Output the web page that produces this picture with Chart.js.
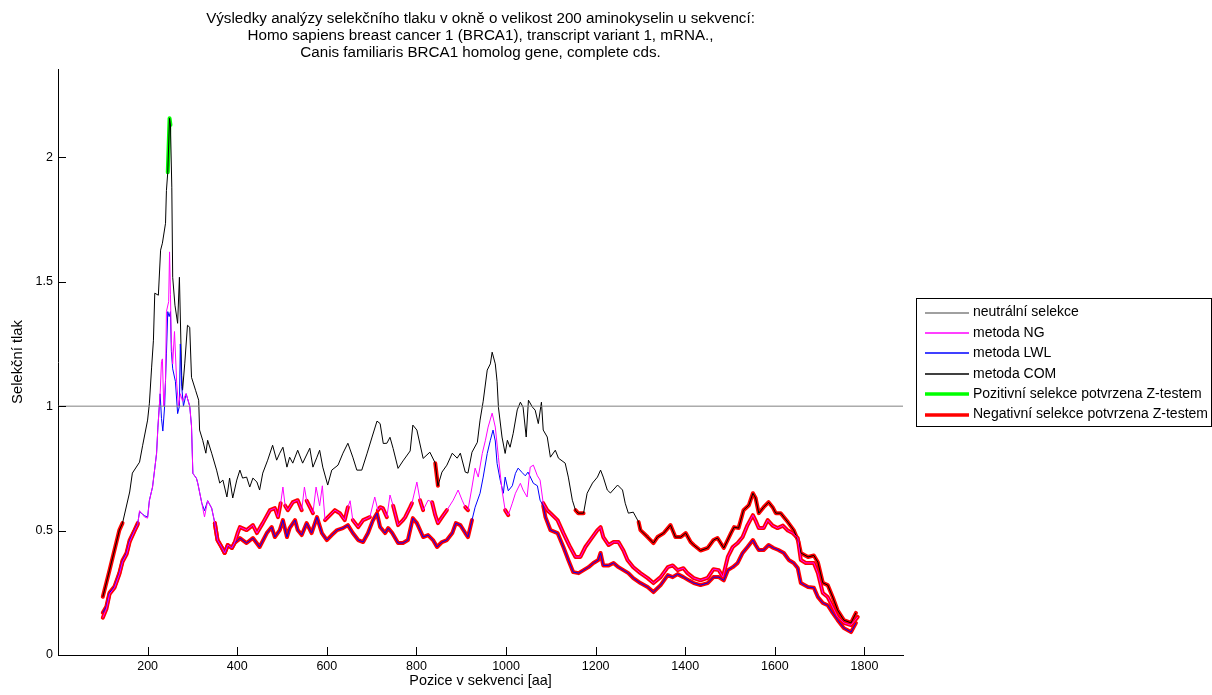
<!DOCTYPE html>
<html lang="cs">
<head>
<meta charset="utf-8">
<title>Selekční tlak BRCA1</title>
<script src="https://cdn.jsdelivr.net/npm/chart.js@4.4.1/dist/chart.umd.min.js"></script>
<style>
  html, body { margin: 0; padding: 0; background: #ffffff; }
  #wrap { width: 1212px; height: 695px; }
  canvas { display: block; }
</style>
</head>
<body>
<div id="wrap"><canvas id="chart" width="1212" height="695"></canvas></div>
<script>
// ---- data: positions [aa] and selection pressure values ----
const comPos = [100,115,137,144,160,166,182,189,200,204,209,213,216,224,229,233,240,242,245,249,251,254,256,261,267,271,276,278,283,289,294,298,307,314,316,323,330,334,343,354,361,368,377,383,390,399,406,412,421,428,435,444,450,457,468,479,488,495,502,511,517,524,535,546,562,569,578,584,591,602,611,625,636,647,658,667,678,690,701,712,719,726,734,741,748,759,770,786,792,801,815,830,842,848,857,868,880,891,898,909,915,924,936,942,949,958,965,969,976,980,983,991,998,1003,1009,1016,1025,1032,1038,1045,1050,1059,1065,1072,1079,1083,1092,1099,1110,1117,1132,1139,1148,1155,1161,1173,1181,1193,1204,1211,1217,1226,1233,1249,1260,1266,1273,1284,1296,1300,1316,1329,1338,1352,1367,1378,1390,1401,1412,1419,1434,1450,1463,1472,1486,1502,1509,1519,1530,1542,1551,1557,1564,1575,1586,1595,1602,1613,1629,1642,1653,1658,1674,1687,1696,1707,1718,1729,1740,1754,1770,1781];
const comVal = [0.234,0.341,0.502,0.530,0.655,0.731,0.775,0.843,0.944,1.012,1.157,1.265,1.454,1.446,1.627,1.655,1.735,1.867,1.940,2.157,2.130,1.880,1.518,1.406,1.333,1.518,1.124,1.064,1.173,1.325,1.317,1.116,1.064,1.024,0.904,0.863,0.811,0.863,0.811,0.743,0.691,0.703,0.635,0.711,0.631,0.703,0.743,0.711,0.715,0.675,0.711,0.695,0.663,0.731,0.783,0.843,0.783,0.811,0.835,0.755,0.795,0.771,0.823,0.771,0.831,0.755,0.795,0.823,0.755,0.683,0.743,0.763,0.811,0.851,0.795,0.743,0.743,0.811,0.876,0.940,0.930,0.850,0.851,0.875,0.830,0.750,0.780,0.820,0.924,0.904,0.790,0.815,0.771,0.680,0.735,0.763,0.811,0.791,0.811,0.735,0.731,0.815,0.855,0.944,1.020,1.145,1.170,1.217,1.170,1.100,0.996,0.876,0.810,0.863,0.835,0.891,0.985,1.016,0.996,0.876,1.024,0.996,0.984,0.930,1.016,0.904,0.876,0.795,0.823,0.791,0.771,0.715,0.622,0.582,0.570,0.570,0.650,0.691,0.715,0.743,0.715,0.663,0.651,0.683,0.663,0.610,0.570,0.574,0.534,0.502,0.474,0.450,0.474,0.490,0.522,0.474,0.474,0.490,0.454,0.442,0.420,0.430,0.462,0.470,0.430,0.490,0.514,0.510,0.582,0.602,0.650,0.631,0.570,0.594,0.614,0.594,0.570,0.570,0.534,0.502,0.454,0.410,0.394,0.400,0.373,0.290,0.281,0.233,0.180,0.140,0.129,0.169];

const ngPos = [100,108,115,126,137,144,153,160,171,178,182,193,200,204,211,220,223,228,231,233,236,240,242,247,249,251,253,256,260,265,269,273,278,286,294,298,301,309,312,321,327,334,343,350,356,365,372,379,388,394,401,406,421,435,444,457,473,484,491,497,502,507,513,524,535,544,550,555,562,569,576,584,590,596,607,618,629,640,647,652,658,670,681,696,707,714,719,725,734,741,748,759,770,775,786,790,801,808,815,826,835,842,848,857,868,882,893,902,909,915,924,931,938,947,954,960,969,976,983,991,998,1005,1014,1021,1032,1038,1047,1054,1061,1070,1076,1083,1092,1099,1115,1128,1143,1155,1166,1177,1188,1204,1211,1217,1229,1240,1251,1262,1271,1284,1300,1316,1329,1345,1361,1372,1383,1396,1405,1419,1434,1450,1463,1475,1484,1495,1506,1517,1528,1539,1551,1557,1564,1575,1584,1595,1606,1618,1629,1640,1651,1658,1669,1687,1696,1707,1718,1729,1740,1754,1770,1785];
const ngVal = [0.150,0.185,0.245,0.270,0.325,0.375,0.405,0.455,0.500,0.525,0.580,0.555,0.550,0.620,0.675,0.810,0.916,1.050,1.180,1.190,1.000,1.100,1.380,1.420,1.620,1.450,1.260,1.170,1.300,1.090,1.000,1.050,1.020,1.050,1.000,0.920,0.730,0.710,0.690,0.610,0.555,0.620,0.590,0.530,0.462,0.434,0.410,0.442,0.430,0.450,0.490,0.514,0.502,0.522,0.490,0.530,0.582,0.590,0.554,0.610,0.675,0.600,0.582,0.614,0.622,0.582,0.675,0.620,0.595,0.570,0.675,0.600,0.680,0.542,0.562,0.582,0.570,0.542,0.594,0.620,0.542,0.514,0.542,0.554,0.635,0.582,0.594,0.590,0.554,0.643,0.600,0.522,0.542,0.554,0.594,0.610,0.695,0.622,0.582,0.622,0.614,0.562,0.530,0.554,0.582,0.622,0.663,0.622,0.594,0.582,0.675,0.751,0.715,0.810,0.863,0.916,0.972,0.916,0.795,0.663,0.582,0.562,0.610,0.650,0.690,0.663,0.635,0.755,0.763,0.720,0.703,0.610,0.582,0.570,0.542,0.490,0.434,0.394,0.394,0.434,0.462,0.502,0.514,0.474,0.442,0.454,0.454,0.420,0.382,0.353,0.329,0.309,0.289,0.313,0.353,0.360,0.341,0.349,0.329,0.309,0.300,0.310,0.345,0.341,0.313,0.394,0.434,0.450,0.474,0.522,0.562,0.540,0.510,0.510,0.542,0.520,0.510,0.520,0.500,0.490,0.470,0.382,0.370,0.370,0.329,0.249,0.233,0.193,0.153,0.129,0.120,0.153];

const lwlPos = [100,108,115,126,137,144,153,160,171,178,182,193,200,204,211,220,223,228,231,234,238,242,245,248,251,253,256,262,267,271,273,276,280,286,294,298,301,309,312,321,327,334,343,350,356,365,372,379,388,394,401,406,421,435,450,466,477,484,495,502,511,517,529,535,544,555,566,578,589,600,611,623,636,647,658,670,681,692,703,712,719,730,737,746,759,770,781,792,801,815,826,837,846,857,868,880,888,898,909,915,924,931,942,949,958,965,971,976,980,987,994,998,1005,1014,1021,1027,1036,1043,1049,1061,1070,1076,1083,1088,1099,1115,1128,1139,1150,1162,1173,1184,1195,1206,1211,1217,1229,1240,1251,1262,1273,1284,1300,1316,1329,1345,1361,1372,1383,1396,1408,1419,1434,1450,1463,1475,1486,1495,1506,1517,1528,1539,1551,1557,1564,1575,1586,1597,1608,1620,1631,1642,1651,1658,1674,1687,1696,1707,1718,1729,1740,1754,1770,1781];
const lwlVal = [0.170,0.195,0.250,0.275,0.330,0.380,0.410,0.462,0.502,0.530,0.575,0.560,0.554,0.622,0.675,0.810,0.916,1.050,0.950,0.900,1.000,1.210,1.380,1.360,1.380,1.220,1.150,1.100,0.970,1.000,1.250,1.080,1.000,1.050,1.000,0.920,0.730,0.710,0.690,0.610,0.580,0.620,0.590,0.530,0.462,0.434,0.410,0.442,0.430,0.450,0.460,0.470,0.450,0.470,0.434,0.490,0.514,0.474,0.502,0.542,0.474,0.510,0.542,0.502,0.482,0.530,0.490,0.554,0.490,0.462,0.482,0.502,0.510,0.522,0.490,0.462,0.454,0.490,0.542,0.570,0.514,0.490,0.510,0.490,0.450,0.450,0.462,0.550,0.530,0.474,0.482,0.462,0.434,0.454,0.462,0.490,0.530,0.522,0.490,0.474,0.542,0.594,0.650,0.715,0.810,0.863,0.904,0.860,0.770,0.703,0.650,0.715,0.660,0.680,0.730,0.751,0.733,0.720,0.735,0.690,0.680,0.622,0.600,0.554,0.502,0.490,0.434,0.382,0.333,0.329,0.341,0.353,0.370,0.382,0.410,0.360,0.360,0.370,0.353,0.341,0.329,0.309,0.289,0.273,0.253,0.281,0.321,0.313,0.325,0.313,0.300,0.289,0.281,0.289,0.313,0.313,0.300,0.341,0.353,0.370,0.410,0.434,0.462,0.442,0.422,0.422,0.442,0.430,0.422,0.410,0.382,0.370,0.350,0.289,0.273,0.270,0.233,0.209,0.200,0.169,0.141,0.108,0.092,0.129];

// position ranges where the Z-test confirms selection
const comNegRanges = [[100,144],[842,848],[1155,1173],[1296,1785]];
const comPosRanges = [[245,251]];
const ngNegRanges  = [[100,178],[350,497],[507,544],[555,569],[596,647],[658,696],[714,734],[748,790],[808,815],[835,876],[909,918],[998,1005],[1083,1785]];
const lwlNegRanges = [[100,178],[350,924],[1083,1785]];

const neutralLevel = 1;
const xMin = 0, xMax = 1886;
const yMin = 0, yMax = 2.355;
const xTicks = [200, 400, 600, 800, 1000, 1200, 1400, 1600, 1800];
const yTicks = [0, 0.5, 1, 1.5, 2];

const titleLines = [
  'Výsledky analýzy selekčního tlaku v okně o velikost 200 aminokyselin u sekvencí:',
  'Homo sapiens breast cancer 1 (BRCA1), transcript variant 1, mRNA.,',
  'Canis familiaris BRCA1 homolog gene, complete cds.'
];

// ---- styling ----
const FONT = "'Liberation Sans', Arial, Helvetica, sans-serif";
const NEG_LABEL = 'Negativní selekce potvrzena Z-testem';
const POS_LABEL = 'Pozitivní selekce potvrzena Z-testem';

// one entry per legend row: label, stroke colour, stroke width
const legendItems = [
  { label: 'neutrální selekce', color: '#808080', width: 1 },
  { label: 'metoda NG',         color: '#ff00ff', width: 1 },
  { label: 'metoda LWL',        color: '#0000ff', width: 1 },
  { label: 'metoda COM',        color: '#000000', width: 1 },
  { label: POS_LABEL,           color: '#00ff00', width: 4 },
  { label: NEG_LABEL,           color: '#ff0000', width: 4 }
];
const styleOf = label => legendItems.find(it => it.label === label);

function toPoints(pos, val) {
  return pos.map((p, i) => ({ x: p, y: val[i] }));
}
function inRanges(p, ranges) {
  return ranges.some(r => p >= r[0] && p <= r[1]);
}
function rangePoints(pos, val, ranges) {
  return pos.map((p, i) => ({ x: p, y: inRanges(p, ranges) ? val[i] : null }));
}

function series(label, data) {
  const st = styleOf(label);
  const heavy = st.width > 1;
  return {
    label, data,
    borderColor: st.color, backgroundColor: st.color,
    borderWidth: st.width, pointRadius: 0, tension: 0, spanGaps: false,
    order: heavy ? 2 : 1,
    borderJoinStyle: heavy ? 'round' : 'miter',
    borderCapStyle: heavy ? 'round' : 'butt'
  };
}

const datasets = [
  series('neutrální selekce', [{ x: xMin, y: neutralLevel }, { x: xMax, y: neutralLevel }]),
  series('metoda NG', toPoints(ngPos, ngVal)),
  series('metoda LWL', toPoints(lwlPos, lwlVal)),
  series('metoda COM', toPoints(comPos, comVal)),
  series(POS_LABEL, rangePoints(comPos, comVal, comPosRanges)),
  series(NEG_LABEL, rangePoints(comPos, comVal, comNegRanges)),
  series(NEG_LABEL, rangePoints(ngPos, ngVal, ngNegRanges)),
  series(NEG_LABEL, rangePoints(lwlPos, lwlVal, lwlNegRanges))
];

// tick marks pointing into the plot area
const innerTicks = {
  id: 'innerTicks',
  afterDatasetsDraw(chart) {
    const { ctx, chartArea: a, scales } = chart;
    ctx.save();
    ctx.strokeStyle = '#000';
    ctx.lineWidth = 1;
    ctx.beginPath();
    scales.x.ticks.forEach(t => {
      const px = Math.round(scales.x.getPixelForValue(t.value)) + 0.5;
      ctx.moveTo(px, a.bottom);
      ctx.lineTo(px, a.bottom - 8);
    });
    scales.y.ticks.forEach(t => {
      const py = Math.round(scales.y.getPixelForValue(t.value)) + 0.5;
      ctx.moveTo(a.left, py);
      ctx.lineTo(a.left + 8, py);
    });
    ctx.stroke();
    ctx.restore();
  }
};

// boxed legend to the right of the plot
const boxLegend = {
  id: 'boxLegend',
  afterDraw(chart) {
    const { ctx } = chart;
    const x0 = 916.5, y0 = 298.5, w = 295, h = 128;
    ctx.save();
    ctx.fillStyle = '#ffffff';
    ctx.fillRect(x0, y0, w, h);
    ctx.lineWidth = 1;
    ctx.strokeStyle = '#000000';
    ctx.strokeRect(x0, y0, w, h);
    ctx.font = '14px ' + FONT;
    ctx.textBaseline = 'middle';
    ctx.textAlign = 'left';
    legendItems.forEach((it, i) => {
      const y = 312.5 + i * 20.4;
      const thickLine = it.width > 1;
      const ly = Math.round(y);
      ctx.strokeStyle = it.color;
      ctx.lineWidth = thickLine ? 3.5 : 1.3;
      ctx.beginPath();
      ctx.moveTo(925, ly);
      ctx.lineTo(969, ly);
      ctx.stroke();
      ctx.fillStyle = '#000000';
      ctx.fillText(it.label, 973, y);
    });
    ctx.restore();
  }
};

new Chart(document.getElementById('chart'), {
  type: 'line',
  data: { datasets },
  plugins: [innerTicks, boxLegend],
  options: {
    responsive: false,
    animation: false,
    devicePixelRatio: 1,
    layout: { padding: { top: 0, right: 309, bottom: 0, left: 0 } },
    plugins: {
      legend: { display: false },
      tooltip: { enabled: false },
      title: {
        display: true,
        text: titleLines,
        fullSize: false,
        color: '#000',
        font: { family: FONT, size: 15.2, weight: 'normal', lineHeight: '17px' },
        padding: { top: 10, bottom: 8 }
      }
    },
    scales: {
      x: {
        type: 'linear',
        min: xMin, max: xMax,
        grid: { display: false, drawTicks: false, tickLength: 0 },
        border: { display: true, color: '#000', width: 1 },
        afterBuildTicks: s => { s.ticks = xTicks.map(v => ({ value: v })); },
        afterFit: s => { s.height = 40; },
        ticks: { color: '#000', padding: 4, maxRotation: 0, autoSkip: false,
                 font: { family: FONT, size: 12.5 },
                 callback: v => String(v) },
        title: { display: true, text: 'Pozice v sekvenci [aa]', color: '#000',
                 font: { family: FONT, size: 14.4 }, padding: { top: 0, bottom: 5 } }
      },
      y: {
        type: 'linear',
        min: yMin, max: yMax,
        grid: { display: false, drawTicks: false, tickLength: 0 },
        border: { display: true, color: '#000', width: 1 },
        afterBuildTicks: s => { s.ticks = yTicks.map(v => ({ value: v })); },
        afterFit: s => { s.width = 58; },
        ticks: { color: '#000', padding: 5, autoSkip: false,
                 font: { family: FONT, size: 12.5 },
                 callback: v => String(v) },
        title: { display: true, text: 'Selekční tlak', color: '#000',
                 font: { family: FONT, size: 14.8 }, padding: { top: 9, bottom: 0 } }
      }
    }
  }
});
</script>
</body>
</html>
